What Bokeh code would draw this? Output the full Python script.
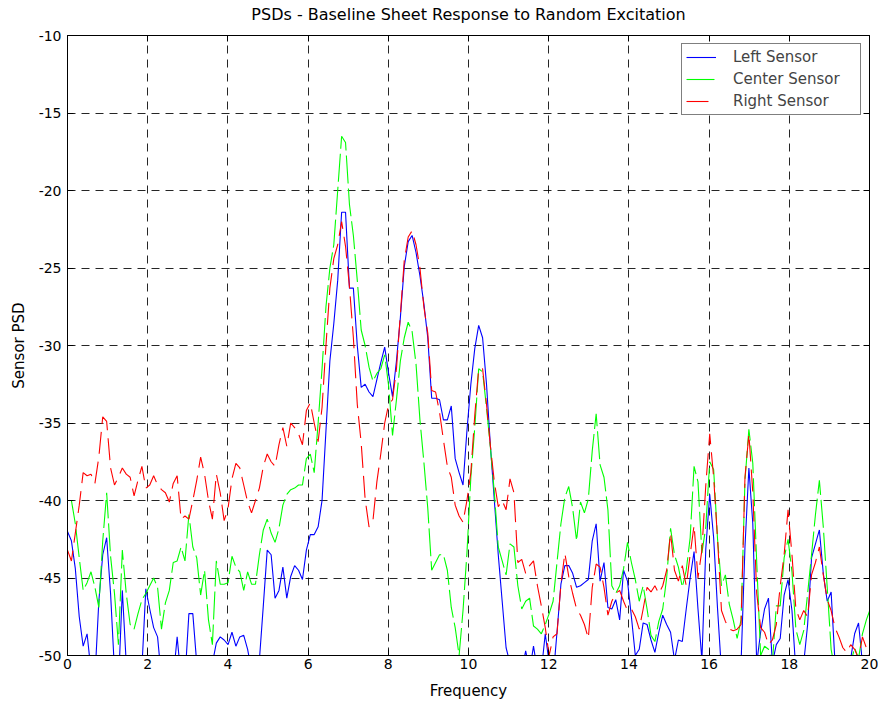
import numpy as np
from bokeh.plotting import figure
from bokeh.models import Range1d, FixedTicker, Legend, LegendItem, LinearAxis
from bokeh.embed import file_html
from bokeh.resources import INLINE

# frequency resolution of the PSD bins (Hz)
bin_width = 100.0 / 1024.0

left_sensor = [
    -42.0, -42.6, -44.4, -47.5, -49.4, -48.6, -51.0, -51.5, -46.5, -43.5,
    -42.4, -46.0, -51.0, -52.0, -45.8, -50.5, -52.0, -51.5, -52.0, -50.8,
    -45.7, -47.0, -48.2, -48.8, -51.5, -52.0, -53.0, -51.5, -48.8, -51.5,
    -51.5, -47.3, -47.3, -50.5, -52.0, -52.0, -52.0, -50.5, -49.2, -48.8,
    -49.0, -49.3, -48.5, -49.4, -48.8, -48.7, -49.6, -51.0, -52.0, -50.3,
    -46.8, -43.2, -43.5, -46.3, -45.8, -44.3, -46.3, -44.9, -44.2, -44.5,
    -45.1, -43.2, -42.2, -42.2, -41.7, -40.0, -35.5, -31.0, -28.6, -25.8,
    -21.4, -21.4, -26.3, -26.3, -30.0, -32.7, -32.5, -33.0, -33.3, -32.2,
    -31.1, -30.1, -31.8, -33.3, -31.0, -28.2, -24.9, -23.3, -22.9, -24.0,
    -25.5, -27.3, -29.5, -33.4, -33.4, -33.5, -34.8, -34.8, -33.9, -37.3,
    -38.2, -39.0, -35.5, -32.5, -30.2, -28.7, -29.5, -32.5, -36.5, -40.0,
    -43.5, -46.5, -49.5, -50.5, -52.0, -52.5, -51.0, -49.7, -51.0, -49.4,
    -51.0, -51.0, -48.6, -50.5, -51.5, -48.5, -45.4, -44.2, -44.2, -44.7,
    -45.6, -45.5, -45.3, -45.1, -42.6, -41.5, -45.2, -44.0, -46.9, -47.0,
    -46.4, -47.7, -44.5, -45.2, -47.5, -50.0, -49.6, -47.9, -48.0, -49.0,
    -49.8, -48.5, -47.4, -48.0, -48.5, -50.3, -49.0, -49.1, -47.0, -45.0,
    -43.3, -47.0, -50.3, -43.1, -39.6, -42.4, -47.0, -51.0, -52.0, -52.0,
    -52.0, -51.5, -50.5, -43.0, -37.9, -41.5, -50.5, -48.5, -47.0, -46.3,
    -50.5, -49.3, -48.9, -46.1, -45.1, -47.1, -51.0, -52.0, -50.5, -48.0,
    -43.7, -42.8, -41.9, -44.7, -46.5, -45.9, -50.5, -52.0, -52.0, -51.0,
    -50.2, -48.6, -47.9, -50.5, -52.0, -52.0,
]

center_sensor = [
    -40.0, -40.0, -41.5, -43.7, -45.8, -45.3, -44.6, -45.6, -46.9, -42.6,
    -39.5, -43.6, -46.0, -49.3, -43.2, -46.0, -48.0, -48.3, -47.3, -46.4,
    -46.0, -45.5, -45.0, -45.6, -48.3, -46.6, -45.8, -44.0, -43.9, -43.0,
    -43.9, -40.9, -43.0, -43.7, -46.1, -44.5, -47.7, -49.3, -43.9, -45.4,
    -45.4, -45.3, -43.6, -44.3, -44.6, -45.8, -44.6, -45.4, -45.4, -43.5,
    -41.9, -41.2, -42.1, -42.7, -41.8, -40.3, -39.6, -39.3, -39.2, -39.0,
    -39.0, -37.3, -37.0, -38.2, -35.0, -31.5, -27.5, -25.0, -23.5, -20.0,
    -16.5, -16.9, -20.9, -22.9, -25.8, -29.0, -30.0, -31.4, -32.3, -31.8,
    -31.5, -30.6, -32.6, -35.8, -33.5, -31.0, -29.5, -28.5, -29.1, -31.2,
    -34.8, -37.5, -40.5, -44.5, -44.0, -43.5, -43.5, -44.5, -46.9, -48.2,
    -50.0, -47.1, -43.4, -38.5, -35.3, -31.5, -31.7, -34.0, -36.6, -39.5,
    -43.0, -43.9, -44.8, -42.8, -43.0, -45.5, -47.0, -46.5, -46.3, -48.1,
    -48.3, -48.6, -48.0, -47.3, -46.5, -44.0, -41.5, -39.8, -39.1, -40.5,
    -42.6, -40.1, -40.8, -39.9, -36.8, -34.4, -37.7, -38.5, -40.6, -45.5,
    -46.0, -45.5, -44.4, -42.7, -44.0, -45.1, -46.5, -45.5, -47.0, -48.7,
    -49.1, -47.8, -47.0, -45.0, -41.8, -43.5, -44.3, -45.6, -44.5, -42.4,
    -37.8, -38.8, -43.4, -41.7, -37.5, -38.0, -42.5, -45.5, -44.8, -46.7,
    -47.7, -48.9, -47.7, -38.7, -35.4, -37.6, -44.0, -50.0, -49.4, -49.6,
    -50.5, -46.8, -46.8, -43.7, -42.5, -44.6, -48.3, -49.3, -48.4, -46.0,
    -43.5, -40.9, -38.7, -41.7, -45.6, -49.6, -51.0, -51.5, -52.0, -51.0,
    -50.5, -49.5, -50.2, -48.6, -47.7, -47.0,
]

right_sensor = [
    -43.2, -43.9, -42.1, -40.3, -38.2, -38.4, -38.3, -38.9, -37.2, -34.6,
    -34.9, -37.9, -39.0, -38.5, -37.9, -38.3, -38.5, -39.7, -38.7, -37.8,
    -39.2, -39.0, -38.4, -39.0, -39.3, -39.5, -40.1, -38.9, -38.4, -41.2,
    -41.0, -41.2, -40.0, -38.7, -37.2, -38.3, -40.0, -41.2, -38.3, -39.5,
    -41.3, -40.5, -38.6, -37.6, -37.9, -39.0, -40.1, -40.8, -40.0, -39.2,
    -37.8, -37.0, -37.5, -37.8, -36.4, -35.3, -36.5, -35.0, -35.3, -35.7,
    -36.4, -34.2, -33.7, -35.0, -36.2, -34.0, -30.0, -26.3, -24.4, -23.5,
    -22.0, -23.6, -26.2, -29.5, -33.8, -36.3, -39.9, -41.7, -41.3, -38.8,
    -37.0, -35.0, -33.8, -33.5, -31.5, -28.0, -24.5, -23.0, -22.6, -23.5,
    -25.0, -27.5, -29.2, -32.9, -33.0, -34.3, -36.1, -37.8, -38.5, -40.3,
    -41.0, -41.4, -40.0, -38.2, -34.5, -31.5, -31.5, -33.8, -36.5, -38.8,
    -40.4, -40.0, -40.6, -38.6, -39.5, -44.0, -43.8, -44.7, -44.2, -43.9,
    -45.5, -46.8, -48.2, -50.0, -48.8, -48.6, -45.4, -43.4, -44.9, -46.0,
    -47.0, -47.4, -48.0, -48.9, -45.6, -44.1, -44.3, -45.6, -47.4, -46.5,
    -46.0, -45.8, -46.5, -47.1, -47.0, -47.5, -48.3, -47.0, -45.6, -45.9,
    -45.5, -46.0, -45.5, -44.5, -42.1, -44.5, -45.2, -44.2, -45.5, -43.5,
    -41.6, -45.0, -43.2, -39.0, -35.7, -38.5, -42.5, -47.1, -47.8, -48.3,
    -48.4, -48.3, -48.0, -38.5, -35.7, -39.5, -46.0, -48.2, -48.5, -49.3,
    -49.0, -48.0, -45.5, -43.5, -40.6, -43.5, -47.0, -47.7, -47.1, -47.5,
    -44.8, -44.0, -43.0, -44.8, -46.4, -47.1, -48.2, -48.8, -49.5, -49.8,
    -49.3, -49.6, -50.2, -48.8, -49.5, -50.2,
]

series_names = ["Left Sensor", "Center Sensor", "Right Sensor"]
title_text = "PSDs - Baseline Sheet Response to Random Excitation"

x_ticks = [0, 2, 4, 6, 8, 10, 12, 14, 16, 18, 20]
x_tick_labels = ["0", "2", "4", "6", "8", "10", "12", "14", "16", "18", "20"]
y_ticks = [-50, -45, -40, -35, -30, -25, -20, -15, -10]
y_tick_labels = ["-50", "-45", "-40", "-35", "-30", "-25", "-20", "-15", "-10"]

FONT = "DejaVu Sans"

p = figure(
    width=878, height=702,
    x_range=Range1d(0, 20), y_range=Range1d(-50, -10),
    output_backend="svg", toolbar_location=None,
    min_border_left=67, min_border_right=9,
    min_border_top=35, min_border_bottom=47,
)
p.background_fill_color = "white"
p.border_fill_color = "white"
p.outline_line_color = "black"
p.outline_line_width = 1

for ax in (p.xaxis[0], p.yaxis[0]):
    ax.axis_line_color = "black"
    ax.major_tick_line_color = "black"
    ax.major_tick_in = 6
    ax.major_tick_out = 0
    ax.minor_tick_line_color = None
    ax.major_label_text_font = FONT
    ax.major_label_text_font_size = "14px"
    ax.major_label_text_color = "black"
    ax.axis_label_text_font = FONT
    ax.axis_label_text_font_size = "15px"
    ax.axis_label_text_font_style = "normal"
    ax.axis_label_text_color = "black"

p.xaxis.ticker = FixedTicker(ticks=x_ticks)
p.yaxis.ticker = FixedTicker(ticks=y_ticks)
p.xaxis.major_label_overrides = {t: s for t, s in zip(x_ticks, x_tick_labels)}
p.yaxis.major_label_overrides = {t: s for t, s in zip(y_ticks, y_tick_labels)}
p.xaxis.major_label_standoff = 3
p.yaxis.major_label_standoff = 6
p.xaxis.axis_label = "Frequency"
p.yaxis.axis_label = "Sensor PSD"
p.xaxis.axis_label_standoff = 10
p.yaxis.axis_label_standoff = 8

# box axes (top / right) with inward ticks, as in the original figure;
# the top one also carries the chart title
top_axis = LinearAxis(
    ticker=FixedTicker(ticks=x_ticks),
    major_label_overrides={t: "" for t in x_ticks},
    major_label_standoff=0, major_tick_in=6, major_tick_out=0,
    minor_tick_line_color=None, axis_line_color="black",
    major_tick_line_color="black",
    axis_label=title_text, axis_label_standoff=12,
    axis_label_text_font=FONT, axis_label_text_font_size="16px",
    axis_label_text_font_style="normal", axis_label_text_color="black",
)
p.add_layout(top_axis, "above")

right_axis = LinearAxis(
    ticker=FixedTicker(ticks=y_ticks),
    major_label_overrides={t: "" for t in y_ticks},
    major_label_standoff=0, major_tick_in=6, major_tick_out=0,
    minor_tick_line_color=None, axis_line_color="black",
    major_tick_line_color="black",
)
p.add_layout(right_axis, "right")

for g in (p.xgrid[0], p.ygrid[0]):
    g.grid_line_color = "black"
    g.grid_line_alpha = 0.85
    g.grid_line_width = 1
    g.grid_line_dash = "8 6"
p.xgrid.ticker = FixedTicker(ticks=x_ticks)
p.ygrid.ticker = FixedTicker(ticks=y_ticks)

f_left = np.arange(len(left_sensor)) * bin_width
f_center = np.arange(len(center_sensor)) * bin_width
f_right = np.arange(len(right_sensor)) * bin_width

r1 = p.line(f_left, left_sensor, line_color="#0000ff", line_width=1.1)
r2 = p.line(f_center, center_sensor, line_color="#00ff00", line_width=1.1,
            line_dash="28 5")
r3 = p.line(f_right, right_sensor, line_color="#ff0000", line_width=1.1,
            line_dash="22 8")

legend = Legend(
    items=[LegendItem(label=series_names[0], renderers=[r1]),
           LegendItem(label=series_names[1], renderers=[r2]),
           LegendItem(label=series_names[2], renderers=[r3])],
    location="top_right", margin=8, padding=4, spacing=4,
    glyph_width=30, glyph_height=14, label_height=14, label_width=123,
    label_standoff=17,
    label_text_font=FONT, label_text_font_size="15px",
    border_line_color="black", border_line_width=1,
    background_fill_color="white", background_fill_alpha=1.0,
)
p.add_layout(legend)

open("out.html", "w").write(file_html(p, INLINE))
